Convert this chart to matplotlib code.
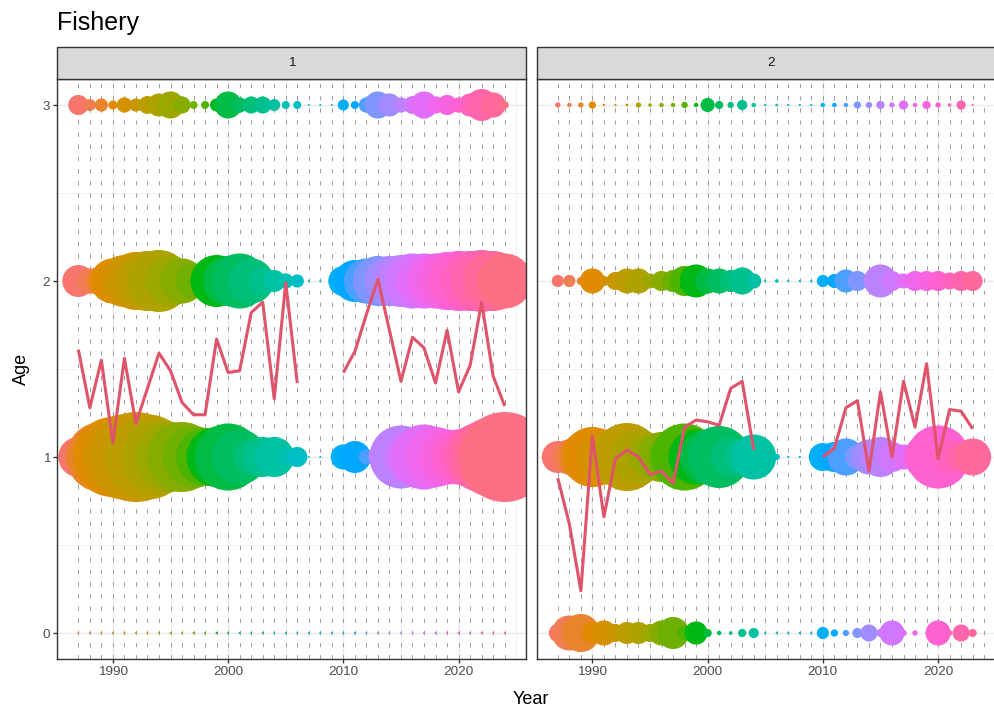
import numpy as np
import matplotlib.pyplot as plt
from matplotlib.patches import Rectangle

plt.rcParams['font.family'] = ['Liberation Sans', 'DejaVu Sans']

nan = np.nan
years = list(range(1987, 2025))
ages = [0, 1, 2, 3]
fleets = ['1', '2']

# composition (%) at age, fleet 1
f1_age0 = [0, 0, 0, 0, 0, 0, 0, 0, 0, 0, 0, 0, 0, 0, 0, 0, 0, 0, 0, 0,
           0, 0, 0, 0, 0, 0, 0, 0, 0, 0, 0, 0, 0, 0, 0, 0, 0, 0]
f1_age1 = [16.0, 25.0, 49.0, 64.0, 72.3, 81.0, 72.3, 56.3, 49.0, 49.0, 38.4, 33.6, 36.0, 44.9,
           30.3, 12.3, 16.0, 16.0, 2.3, 4.0, 0, 0, 0, 6.3, 10.2, 2.3, 4.0, 16.0, 39.7, 30.3,
           42.3, 36.0, 30.3, 30.3, 36.0, 49.0, 64.0, 81.0]
f1_age2 = [10.2, 6.3, 9.0, 20.3, 27.0, 33.6, 36.0, 38.4, 25.0, 20.3, 12.3, 9.0, 27.0, 25.0,
           30.3, 20.3, 7.8, 4.8, 2.3, 1.7, 0, 0, 0, 9.0, 17.6, 20.3, 25.0, 25.0, 27.0, 30.3,
           30.3, 30.3, 33.6, 36.0, 36.0, 38.4, 36.0, 30.3]
f1_age3 = [4.0, 1.4, 1.7, 0.8, 2.3, 1.7, 3.2, 5.3, 7.3, 2.9, 0.6, 0.6, 1.7, 7.3, 2.3, 2.9,
           2.9, 1.4, 0.6, 0.6, 0, 0, 0, 1.2, 0.6, 2.3, 7.3, 5.3, 2.3, 3.2, 7.3, 2.9, 4.0, 2.3,
           5.3, 10.2, 6.3, 0.6]

# composition (%) at age, fleet 2
f2_age0 = [3.24, 12.25, 14.44, 4.84, 6.25, 3.24, 4.84, 4.84, 3.24, 6.25, 10.24, 2.25, 5.29,
           0.64, 0.16, 0.09, 0.64, 1.0, 0.01, 0.01, 0.01, 0.01, 0.01, 1.44, 0.49, 0.36, 1.0,
           2.89, 0.64, 6.25, 0.36, 0.25, 0.01, 6.25, 0.25, 2.89, 0.64, nan]
f2_age1 = [10.24, 12.25, 20.25, 36.0, 30.25, 30.25, 46.24, 30.25, 20.25, 25.0, 25.0, 44.89,
           30.25, 30.25, 38.44, 16.0, 12.25, 20.25, 0.25, 0.36, 0.01, 0.01, 0.01, 7.84, 9.0,
           13.69, 6.25, 12.25, 16.0, 9.0, 6.25, 6.25, 20.25, 39.69, 12.25, 9.0, 13.69, nan]
f2_age2 = [1.44, 1.44, 0.64, 6.25, 1.0, 3.24, 6.25, 6.25, 2.25, 4.0, 4.84, 9.0, 10.89, 6.25,
           6.25, 4.84, 7.29, 2.25, 0.01, 0.09, 0.01, 0.01, 0.01, 1.44, 1.96, 5.29, 4.0, 1.44,
           10.89, 4.0, 2.25, 4.0, 4.0, 4.0, 2.89, 4.0, 4.0, nan]
f2_age3 = [0.25, 0.16, 0.25, 0.49, 0.02, 0.01, 0.04, 0.25, 0.09, 0.16, 0.16, 0.36, 0.16, 1.96,
           0.64, 0.36, 1.0, 0.16, 0.01, 0.04, 0.01, 0.01, 0.01, 0.16, 0.16, 0.16, 0.49, 0.36,
           0.64, 0.25, 0.81, 0.16, 0.64, 0.25, 0.09, 0.81, 0.01, nan]

# mean age line
f1_mean = [1.61, 1.28, 1.55, 1.08, 1.56, 1.19, 1.39, 1.59, 1.49, 1.31, 1.24, 1.24, 1.67, 1.48,
           1.49, 1.82, 1.88, 1.33, 1.99, 1.42, nan, nan, nan, 1.48, 1.60, 1.81, 2.01, 1.72,
           1.43, 1.68, 1.62, 1.42, 1.72, 1.37, 1.52, 1.88, 1.46, 1.29]
f2_mean = [0.88, 0.62, 0.24, 1.12, 0.66, 0.99, 1.04, 1.00, 0.90, 0.92, 0.85, 1.17, 1.21, 1.20,
           1.18, 1.39, 1.43, 1.04, nan, nan, nan, nan, nan, 1.00, 1.05, 1.28, 1.32, 0.92, 1.37,
           1.00, 1.43, 1.17, 1.53, 0.99, 1.27, 1.26, 1.16, nan]


def hcl_hex(h, c=100.0, l=65.0):
    # polar Luv -> sRGB, same as R's hcl()
    Xn, Yn, Zn = 95.047, 100.0, 108.883
    un = 4 * Xn / (Xn + 15 * Yn + 3 * Zn)
    vn = 9 * Yn / (Xn + 15 * Yn + 3 * Zn)
    hr = np.deg2rad(h)
    U, V = c * np.cos(hr), c * np.sin(hr)
    Y = Yn * ((l + 16) / 116) ** 3
    u = U / (13 * l) + un
    v = V / (13 * l) + vn
    X = 9.0 * Y * u / (4 * v)
    Z = -X / 3 - 5 * Y + 3 * Y / v
    M = np.array([[3.240479, -1.537150, -0.498535],
                  [-0.969256, 1.875992, 0.041556],
                  [0.055648, -0.204043, 1.057311]])
    rgb = M @ (np.array([X, Y, Z]) / 100)
    rgb = np.where(rgb <= 0.0031308, 12.92 * rgb, 1.055 * np.abs(rgb) ** (1 / 2.4) - 0.055)
    return tuple(np.clip(rgb, 0, 1))


hues = np.linspace(15, 375, len(years) + 1)[:-1]
colors = [hcl_hex(h) for h in hues]

W, H = 995, 714
fig = plt.figure(figsize=(W / 100, H / 100), dpi=100)

top, bot = 78.6, 659.4
pw = 469
lefts = [57, 536.5]

comps = [[f1_age0, f1_age1, f1_age2, f1_age3], [f2_age0, f2_age1, f2_age2, f2_age3]]
means = [f1_mean, f2_mean]

for i, left in enumerate(lefts):
    ax = fig.add_axes([left / W, (H - bot) / H, pw / W, (bot - top) / H])
    ax.set_xlim(1985.15, 2025.85)
    ax.set_ylim(-0.15, 3.15)

    # grid like theme_bw
    for x in [1990, 2000, 2010, 2020]:
        ax.axvline(x, color='#EBEBEB', lw=1.05, zorder=0)
    for x in [1985, 1995, 2005, 2015, 2025]:
        ax.axvline(x, color='#EBEBEB', lw=0.5, zorder=0)
    for y in ages:
        ax.axhline(y, color='#EBEBEB', lw=1.05, zorder=0)
    for y in [0.5, 1.5, 2.5]:
        ax.axhline(y, color='#EBEBEB', lw=0.5, zorder=0)

    # dashed year lines
    for yr in years:
        ax.axvline(yr, color='#9C9C9C', lw=0.7, ls=(0, (4.5, 8)), zorder=1)

    # bubbles
    for age, comp in zip(ages, comps[i]):
        v = np.array(comp, dtype=float)
        ok = ~np.isnan(v)
        d = np.sqrt(4 + 100 * v[ok])
        ax.scatter(np.array(years)[ok], np.full(ok.sum(), age), s=(0.72 * d) ** 2,
                   c=[c for c, k in zip(colors, ok) if k], linewidths=0, zorder=2)

    ax.plot(years, means[i], color='#DF536B', lw=2.2, zorder=3, solid_capstyle='butt')

    ax.set_xticks([1990, 2000, 2010, 2020])
    ax.set_yticks(ages)
    ax.tick_params(length=2.6, width=1.0, color='#333333', labelcolor='#4D4D4D',
                   labelsize=9.7, pad=2.2)
    if i == 1:
        ax.set_yticklabels([])
        ax.tick_params(axis='y', length=0)
    for s in ax.spines.values():
        s.set_color('#333333')
        s.set_linewidth(1.0)
        s.set_zorder(5)

    # facet strip
    fig.patches.append(Rectangle((left / W, (H - top) / H), pw / W, 31.6 / H,
                                 transform=fig.transFigure, facecolor='#D9D9D9',
                                 edgecolor='#333333', lw=1.0))
    fig.text((left + pw / 2) / W, (H - (top - 15.8)) / H, fleets[i], ha='center',
             va='center', fontsize=9.7, color='#1A1A1A')

fig.text(57 / W, 1 - 30 / H, 'Fishery', fontsize=18, va='baseline', ha='left')
fig.text(21 / W, 1 - (top + bot) / 2 / H, 'Age', rotation=90, fontsize=13,
         ha='center', va='center')
fig.text((57 + 536.5 + pw) / 2 / W, 1 - 699 / H, 'Year', fontsize=13, ha='center',
         va='center')

fig.savefig('out.png', dpi=100)
